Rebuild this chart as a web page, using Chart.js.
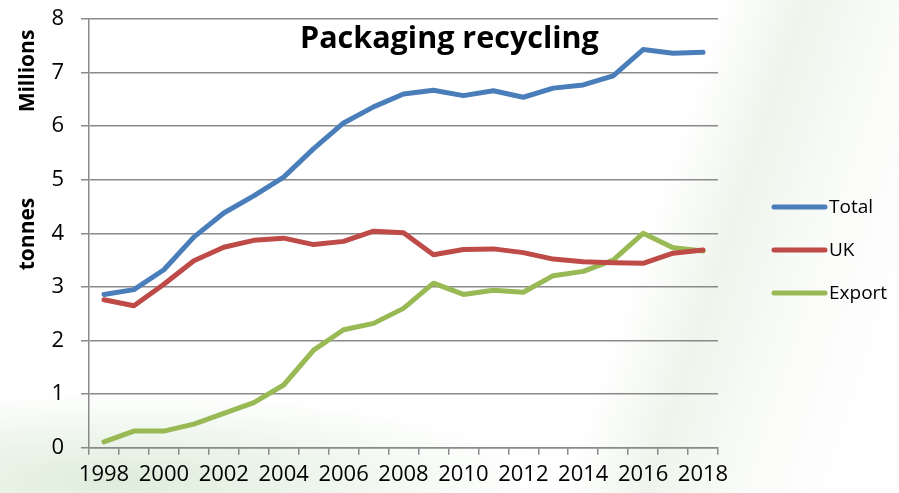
<!DOCTYPE html>
<html lang="en">
<head>
    <meta charset="UTF-8">
    <title>Packaging recycling</title>
    <script src="https://cdn.jsdelivr.net/npm/chart.js"></script>
    <style>
        * {
            margin: 0;
            padding: 0;
            box-sizing: border-box;
        }
        body {
            width: 899px;
            height: 493px;
            overflow: hidden;
            background:
                radial-gradient(ellipse 420px 90px at 120px 480px, rgba(196, 222, 190, 0.55), rgba(255, 255, 255, 0) 100%),
                linear-gradient(108deg, rgba(255, 255, 255, 0) 68%, rgba(232, 240, 228, 0.7) 76%, rgba(246, 249, 244, 0.5) 86%, rgba(255, 255, 255, 0) 96%),
                #fff;
        }
        .chart-box {
            position: relative;
            width: 899px;
            height: 493px;
        }
    </style>
</head>
<body>
    <div class="chart-box">
        <canvas id="recyclingChart"></canvas>
    </div>

    <script>
        // millions of tonnes per year
        const years = ['1998', '1999', '2000', '2001', '2002', '2003', '2004', '2005', '2006', '2007',
                       '2008', '2009', '2010', '2011', '2012', '2013', '2014', '2015', '2016', '2017', '2018'];
        const totalTonnes = [2.86, 2.95, 3.32, 3.93, 4.38, 4.70, 5.05, 5.58, 6.06, 6.36,
                             6.60, 6.67, 6.57, 6.66, 6.54, 6.71, 6.77, 6.94, 7.43, 7.36, 7.38];
        const ukTonnes = [2.76, 2.65, 3.05, 3.49, 3.74, 3.87, 3.91, 3.79, 3.85, 4.04,
                          4.01, 3.60, 3.70, 3.71, 3.64, 3.52, 3.47, 3.45, 3.44, 3.63, 3.69];
        const exportTonnes = [0.11, 0.31, 0.31, 0.44, 0.64, 0.84, 1.17, 1.82, 2.20, 2.32,
                              2.60, 3.07, 2.86, 2.94, 2.90, 3.21, 3.29, 3.50, 4.00, 3.73, 3.67];
        const seriesNames = ['Total', 'UK', 'Export'];
        const seriesColors = ['#4a7ebb', '#be4b48', '#98b954'];

        const FONT = '"Open Sans", sans-serif';
        const gridColor = '#8a8a8a';

        // title, the two-part y axis caption and the legend are drawn by hand
        const overlay = {
            id: 'overlay',
            afterDraw(chart) {
                const ctx = chart.ctx;
                ctx.save();
                ctx.fillStyle = '#000';

                ctx.font = 'bold 30.5px ' + FONT;
                ctx.textAlign = 'left';
                ctx.textBaseline = 'alphabetic';
                ctx.fillText('Packaging recycling', 300, 48);

                ctx.font = 'bold 21px ' + FONT;
                ctx.textAlign = 'center';
                ctx.textBaseline = 'middle';
                [['Millions', 71], ['tonnes', 234]].forEach(([txt, cy]) => {
                    ctx.save();
                    ctx.translate(28, cy);
                    ctx.rotate(-Math.PI / 2);
                    ctx.fillText(txt, 0, 0);
                    ctx.restore();
                });

                ctx.font = '19px ' + FONT;
                ctx.textAlign = 'left';
                chart.data.datasets.forEach((ds, i) => {
                    const y = 207 + i * 43;
                    ctx.strokeStyle = ds.borderColor;
                    ctx.lineWidth = 5;
                    ctx.lineCap = 'round';
                    ctx.beginPath();
                    ctx.moveTo(774, y);
                    ctx.lineTo(825, y);
                    ctx.stroke();
                    ctx.fillText(ds.label, 829, y + 1);
                });
                ctx.restore();
            }
        };

        const seriesData = [totalTonnes, ukTonnes, exportTonnes];

        new Chart(document.getElementById('recyclingChart'), {
            type: 'line',
            data: {
                labels: years,
                datasets: seriesNames.map((name, i) => ({
                    label: name,
                    data: seriesData[i],
                    borderColor: seriesColors[i],
                    backgroundColor: seriesColors[i],
                    borderWidth: 5,
                    pointRadius: 0,
                    tension: 0,
                    borderJoinStyle: 'round',
                    borderCapStyle: 'round'
                }))
            },
            options: {
                responsive: true,
                maintainAspectRatio: false,
                animation: false,
                layout: {
                    padding: { top: 19, right: 181, left: 0, bottom: 0 }
                },
                plugins: {
                    legend: { display: false },
                    title: { display: false },
                    tooltip: { enabled: false }
                },
                scales: {
                    x: {
                        type: 'category',
                        offset: true,
                        grid: {
                            offset: true,
                            drawOnChartArea: false,
                            drawTicks: true,
                            tickLength: 7,
                            color: gridColor,
                            lineWidth: 1.5
                        },
                        border: { color: gridColor, width: 1.5 },
                        ticks: {
                            autoSkip: false,
                            maxRotation: 0,
                            padding: 7,
                            color: '#000',
                            font: { family: FONT, size: 22 },
                            callback: (v, i) => (i % 2 === 0 ? years[i] : '')
                        },
                        afterFit: s => {
                            s.height = 45.3;
                            s.paddingLeft = 0;
                            s.paddingRight = 0;
                        }
                    },
                    y: {
                        min: 0,
                        max: 8,
                        grid: {
                            color: gridColor,
                            lineWidth: 1.5,
                            tickLength: 8
                        },
                        border: { color: gridColor, width: 1.5 },
                        ticks: {
                            stepSize: 1,
                            padding: 17,
                            color: '#000',
                            font: { family: FONT, size: 22 }
                        },
                        afterFit: s => {
                            s.width = 89;
                            s.paddingTop = 0;
                            s.paddingBottom = 0;
                        }
                    }
                }
            },
            plugins: [overlay]
        });
    </script>
</body>
</html>
